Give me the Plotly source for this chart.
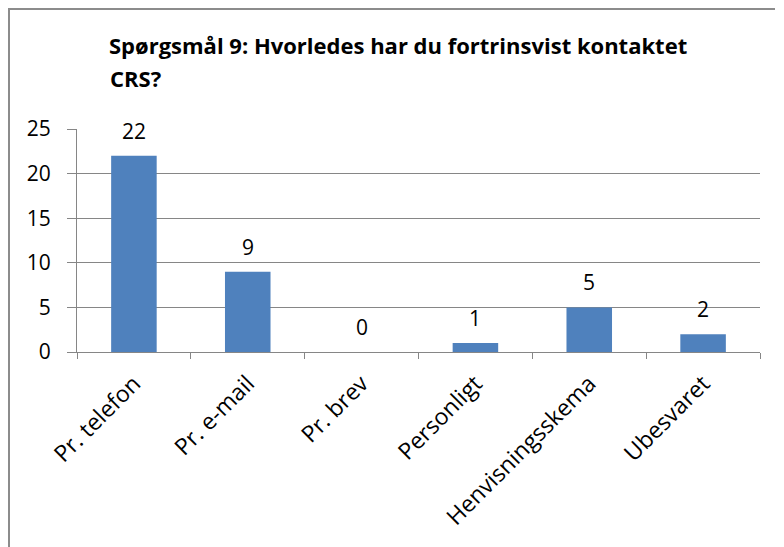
import plotly.graph_objects as go

categories = ["Pr. telefon", "Pr. e-mail", "Pr. brev", "Personligt", "Henvisningsskema", "Ubesvaret"]
values = [22, 9, 0, 1, 5, 2]
y_ticks = [0, 5, 10, 15, 20, 25]
title_line1 = "Spørgsmål 9: Hvorledes har du fortrinsvist kontaktet"
title_line2 = "CRS?"

FONT = "Open Sans"

# the page body has an 8px margin; work in figure pixels
W, H = 776, 539
L, R, T, B = 69, 24, 121, 195
pw, ph = W - L - R, H - T - B


def px2x(p):
    return (p - L) / pw


def px2y(p):
    return (H - B - p) / ph


fig = go.Figure()
fig.add_trace(go.Bar(
    x=categories, y=values,
    marker=dict(color="#4F81BD", line=dict(width=0)),
    width=0.4,
    hoverinfo="skip",
))

for c, v in zip(categories, values):
    fig.add_annotation(x=c, y=v, text=str(v), showarrow=False,
                       yanchor="bottom", yshift=9,
                       font=dict(family=FONT, size=21, color="#000000"))

# second title line
fig.add_annotation(xref="paper", yref="paper", x=px2x(100), y=px2y(53),
                   xanchor="left", yanchor="top", showarrow=False,
                   text=title_line2,
                   font=dict(family=FONT, size=22, color="#000000", weight="bold"))

# frame (left and top edges)
fig.add_shape(type="line", xref="paper", yref="paper",
              x0=px2x(1), x1=px2x(1), y0=px2y(1), y1=px2y(H),
              line=dict(color="#8C8C8C", width=2))
fig.add_shape(type="line", xref="paper", yref="paper",
              x0=px2x(0), x1=px2x(767), y0=px2y(1), y1=px2y(1),
              line=dict(color="#8C8C8C", width=2))

fig.update_layout(
    width=W, height=H,
    margin=dict(l=L, r=R, t=T, b=B),
    paper_bgcolor="white", plot_bgcolor="white",
    showlegend=False,
    font=dict(family=FONT, color="#000000"),
    title=dict(text=title_line1, x=101 / W, xanchor="left",
               xref="container", y=1 - 31 / H, yref="container", yanchor="top",
               font=dict(family=FONT, size=22, color="#000000", weight="bold")),
    xaxis=dict(
        type="category", tickson="boundaries", ticks="outside", ticklen=6,
        tickcolor="#868686", showline=True, linecolor="#868686", linewidth=1,
        tickangle=-45, tickfont=dict(family=FONT, size=23, color="#000000"),
        showgrid=False, ticklabelstandoff=8,
    ),
    yaxis=dict(
        range=[0, 25], tickvals=y_ticks, ticks="outside", ticklen=9,
        tickcolor="#868686", showline=True, linecolor="#868686", linewidth=1,
        showgrid=True, gridcolor="#868686", gridwidth=1, zeroline=False,
        tickfont=dict(family=FONT, size=21, color="#000000"),
        ticklabelstandoff=12,
    ),
    bargap=0.6,
)

fig.write_html("out.html")
